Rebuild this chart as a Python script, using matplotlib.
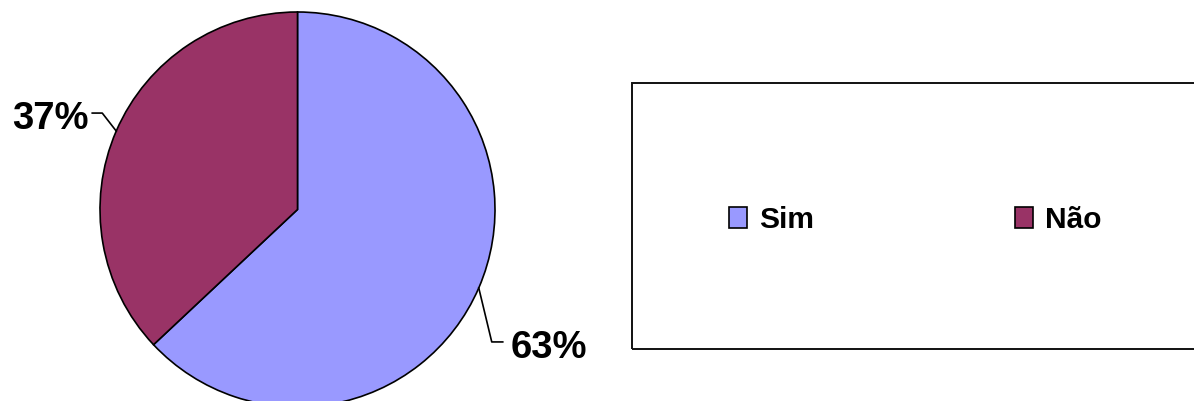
import numpy as np
import matplotlib
matplotlib.use("Agg")
import matplotlib.pyplot as plt
from matplotlib.patches import Rectangle

categories = ["Sim", "Não"]
values = [63, 37]
colors = ["#9999FF", "#993366"]

W, H, DPI = 1194, 402, 100
plt.rcParams['font.family'] = ['Liberation Sans', 'DejaVu Sans']

fig = plt.figure(figsize=(W / DPI, H / DPI), dpi=DPI)
ax = fig.add_axes([0, 0, 1, 1])
ax.axis('off')

# pie geometry in pixels
cx, cy, r = 297.5, 210.5, 197.5

wedges, _ = ax.pie(values, colors=colors, startangle=90, counterclock=False,
                   radius=1, center=(0, 0),
                   wedgeprops=dict(edgecolor='black', linewidth=1.2))
ax.set_xlim(-cx / r, (W - cx) / r)
ax.set_ylim(-(H - cy) / r, cy / r)
ax.set_aspect('auto')

def px(x, y):
    return ((x - cx) / r, (cy - y) / r)

total = sum(values)
# leader geometry offsets (pixels): elbow dx, dy, horizontal length, text gap
leaders = [
    dict(elbow=(13, 54), hlen=11, gap=8, ha='left', tdy=5),
    dict(elbow=(-14, -18), hlen=-10, gap=-4, ha='right', tdy=5),
]
cum = 0
for v, ld in zip(values, leaders):
    mid = 90 - 360 * (cum + v / 2) / total
    cum += v
    ex = cx + r * np.cos(np.radians(mid))
    ey = cy - r * np.sin(np.radians(mid))
    bx, by = ex + ld['elbow'][0], ey + ld['elbow'][1]
    hx = bx + ld['hlen']
    pts = [px(ex, ey), px(bx, by), px(hx, by)]
    ax.plot([p[0] for p in pts], [p[1] for p in pts], color='black', lw=1.2)
    tx, ty = px(hx + ld['gap'], by + ld['tdy'])
    ax.text(tx, ty, f"{round(100 * v / total)}%", ha=ld['ha'], va='center',
            fontsize=27.5, fontweight='bold', color='black')

# legend box
def fx(x):
    return x / W

def fy(y):
    return 1 - y / H

box = Rectangle((fx(632), fy(350)), fx(1200) - fx(632), fy(84) - fy(350),
                transform=fig.transFigure, fill=False, edgecolor='#111111',
                linewidth=1.4, clip_on=False)
fig.add_artist(box)

leg_x = [729, 1015]
for cat, col, lx in zip(categories, colors, leg_x):
    sq = Rectangle((fx(lx), fy(229)), fx(18), 21 / H, transform=fig.transFigure,
                   facecolor=col, edgecolor='black', linewidth=1.2)
    fig.add_artist(sq)
    fig.text(fx(lx + 30), fy(220.5), cat, ha='left', va='center',
             fontsize=21.5, fontweight='bold', color='black')

fig.savefig("out.png", dpi=DPI)
